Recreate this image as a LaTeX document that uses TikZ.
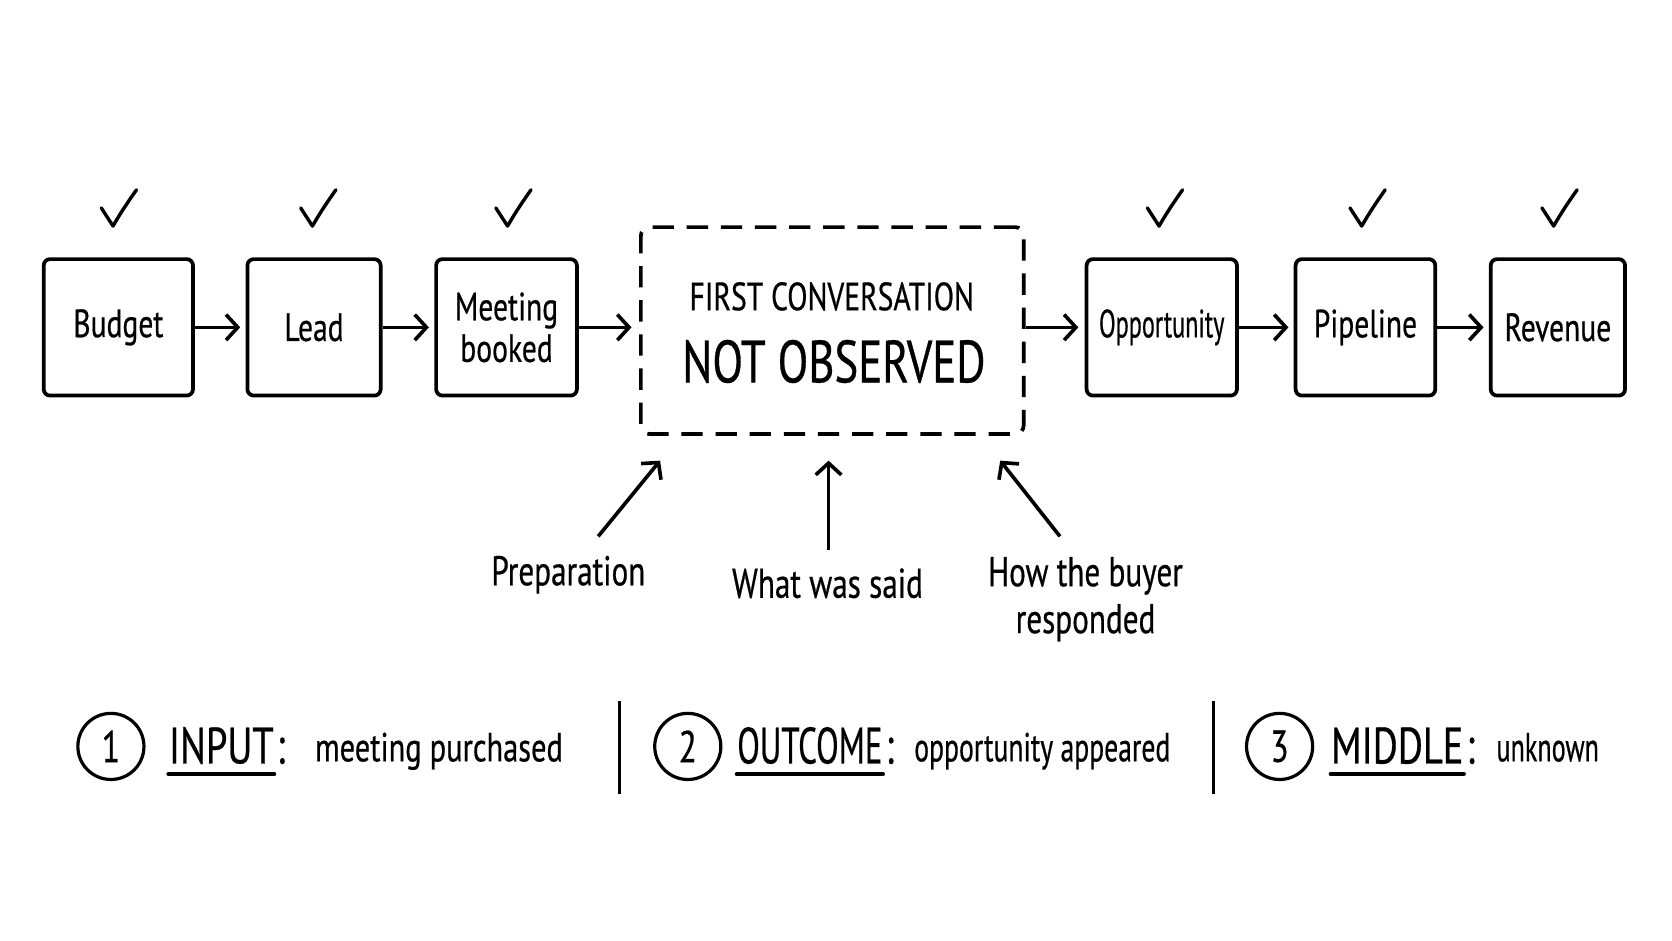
\documentclass[tikz,border=0pt]{standalone}
\usepackage{fontspec}
\setmainfont{PT Sans}[FakeStretch=0.75, FakeBold=0.5]
\usetikzlibrary{arrows.meta}
\begin{document}
\begin{tikzpicture}[x={(0.5pt,0)}, y={(0,-0.5pt)},
  box/.style={draw, line width=1.75pt, rounded corners=3pt, minimum height=64pt,
    align=center, inner sep=0pt, font=\fontsize{18.5}{19.5}\selectfont},
  dbox/.style={draw, line width=1.75pt, rounded corners=4pt, dash pattern=on 10pt off 6pt,
    minimum width=179.5pt, minimum height=97pt, inner sep=0pt},
  arr/.style={-{Straight Barb[length=5.5pt,width=12pt,line width=1.7pt]}, line width=1.7pt},
  chk/.style={line width=1.6pt, line cap=round, line join=round},
  lbl/.style={font=\fontsize{19.5}{22}\selectfont, align=center, inner sep=0pt},
  num/.style={draw, circle, line width=1.5pt, minimum size=31pt, inner sep=0pt,
    font=\fontsize{21}{21}\selectfont},
  key/.style={font=\fontsize{24}{24}\selectfont, inner sep=0pt, anchor=base west},
  val/.style={font=\fontsize{19}{19}\selectfont, inner sep=0pt, anchor=base west},
  uline/.style={line width=2pt, line cap=round},
  sep/.style={line width=1.3pt}
]
\useasboundingbox[fill=white] (0,0) rectangle (1568,882);

% boxes
\node[box, minimum width=70pt]   (budget) at (111,307)   {Budget};
\node[box, minimum width=62.5pt] (lead)   at (294.5,307) {Lead};
\node[box, minimum width=66pt]   (meet)   at (475,307)   {Meeting\\booked};
\node[dbox] (conv) at (780.5,310) {};
\node[box, minimum width=70.5pt] (opp)    at (1089.5,307) {\scalebox{0.82}[1]{Opportunity}};
\node[box, minimum width=65.5pt] (pipe)   at (1280.5,307) {Pipeline};
\node[box, minimum width=63pt]   (rev)    at (1461,307)   {Revenue};

\node[font=\fontsize{18.5}{18.5}\selectfont, inner sep=0pt] (first) at (780,278) {FIRST CONVERSATION};
\node[font=\fontsize{28}{28}\selectfont, inner sep=0pt] (notobs) at (782,339) {NOT OBSERVED};

% checks
\foreach \n/\x in {c1/111, c2/298, c3/481, c4/1092, c5/1282, c6/1462}{
  \coordinate (\n) at (\x,196);
  \draw[chk] ([shift={(-16,-1)}]\n) -- ([shift={(-5,16)}]\n)
     .. controls ([shift={(3,2)}]\n) and ([shift={(10,-8)}]\n) .. ([shift={(17,-18)}]\n);
}

% flow arrows
\draw[arr, shorten >=2.5pt] (budget) -- (lead);
\draw[arr, shorten >=2.5pt] (lead) -- (meet);
\draw[arr, shorten >=3.5pt] (meet.east) -- (meet.east -| conv.west);
\draw[arr, shorten >=3pt] (conv.east |- opp.west) -- (opp.west);
\draw[arr, shorten >=2.5pt] (opp) -- (pipe);
\draw[arr, shorten >=2.5pt] (pipe) -- (rev);

% factors
\node[lbl] (prep) at (533,539) {Preparation};
\node[lbl] (said) at (776,547) {What was said};
\node[lbl] (buyer) at (1018,562) {How the buyer\\responded};
\coordinate (p1) at (561,503); \coordinate (p2) at (619,432);
\coordinate (s1) at (777,516); \coordinate (s2) at (777,432);
\coordinate (b1) at (994,503); \coordinate (b2) at (938,432);
\draw[arr] (p1) -- (p2);
\draw[arr] (s1) -- (s2);
\draw[arr] (b1) -- (b2);

% bottom legend
\node[num] (n1) at (104,700) {1};
\node[key] (k1) at (158,716) {INPUT};
\node[key, anchor=base west] (k1c) at ([xshift=1pt]k1.base east) {:};
\node[val] (v1) at (295,714) {meeting purchased};
\draw[uline] ([yshift=-4.5pt]k1.south west) -- ([yshift=-4.5pt]k1.south east);

\draw[sep] (581,657) coordinate (sa) -- (581,745) coordinate (sb);

\node[num] (n2) at (645,700) {2};
\node[key] (k2) at (691,716) {\scalebox{0.86}[1]{OUTCOME}};
\node[key, anchor=base west] (k2c) at ([xshift=1pt]k2.base east) {:};
\node[val] (v2) at (857,714) {\scalebox{0.91}[1]{opportunity appeared}};
\draw[uline] ([yshift=-4.5pt]k2.south west) -- ([yshift=-4.5pt]k2.south east);

\draw[sep] (1138,657) coordinate (sc) -- (1138,745) coordinate (sd);

\node[num] (n3) at (1200,700) {3};
\node[key] (k3) at (1248,716) {MIDDLE};
\node[key, anchor=base west] (k3c) at ([xshift=1pt]k3.base east) {:};
\node[val] (v3) at (1403,714) {\scalebox{0.86}[1]{unknown}};
\draw[uline] ([yshift=-4.5pt]k3.south west) -- ([yshift=-4.5pt]k3.south east);
\end{tikzpicture}
\end{document}
